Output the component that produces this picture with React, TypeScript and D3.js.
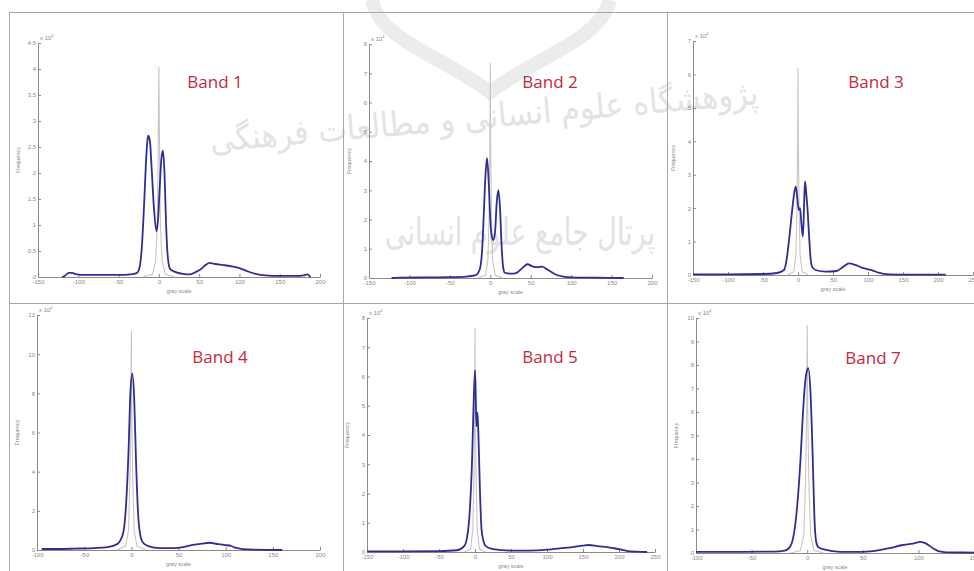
import React, { useEffect, useRef } from "react";
import * as d3 from "d3";

type Pt = [number, number];

// [gray value, frequency (x10^4)]
const band1Blue: Pt[] = [
  [-120, 0], [-116, 0.03], [-112, 0.08], [-108, 0.08], [-102, 0.05], [-90, 0.04], [-70, 0.04],
  [-50, 0.04], [-35, 0.05], [-27, 0.08], [-24, 0.18], [-21, 0.6], [-18, 1.5], [-16, 2.2],
  [-14, 2.65], [-13, 2.72], [-11, 2.6], [-9, 2.1], [-6, 1.3], [-3, 0.88], [-1, 1.1], [1, 1.7],
  [3, 2.25], [5, 2.43], [7, 2.0], [9, 1.0], [11, 0.4], [14, 0.15], [20, 0.1], [30, 0.06],
  [38, 0.05], [45, 0.09], [52, 0.15], [58, 0.23], [63, 0.27], [70, 0.25], [80, 0.23], [92, 0.2],
  [100, 0.17], [110, 0.11], [120, 0.06], [132, 0.03], [150, 0.02], [170, 0.02], [180, 0.03],
  [184, 0.05], [187, 0.02], [188, 0],
];
const band1Gray: Pt[] = [
  [-20, 0], [-8, 0.05], [-4, 0.3], [-2, 1.0], [-1, 2.2], [0, 4.04], [1, 2.2], [2, 1.0], [4, 0.3], [8, 0.05], [20, 0],
];

const band2Blue: Pt[] = [
  [-122, 0], [-110, 0.01], [-80, 0.02], [-50, 0.03], [-30, 0.05], [-18, 0.1], [-13, 0.3],
  [-10, 1.0], [-8, 2.2], [-6, 3.5], [-4, 4.1], [-2, 3.3], [0, 2.0], [2, 1.4], [4, 1.3], [6, 1.6],
  [8, 2.6], [10, 3.0], [12, 2.4], [14, 1.1], [16, 0.35], [18, 0.18], [25, 0.15], [32, 0.17],
  [40, 0.35], [46, 0.47], [52, 0.4], [58, 0.37], [64, 0.39], [70, 0.3], [80, 0.13], [90, 0.05],
  [100, 0.02], [130, 0.01], [165, 0],
];
const band2Gray: Pt[] = [
  [-15, 0], [-6, 0.1], [-3, 0.6], [-1.5, 2.0], [-0.5, 4.5], [0, 7.35], [0.5, 4.5], [1.5, 2.0], [3, 0.6], [6, 0.1], [15, 0],
];

const band3Blue: Pt[] = [
  [-150, 0.02], [-100, 0.02], [-50, 0.03], [-30, 0.06], [-20, 0.15], [-16, 0.5], [-12, 1.2],
  [-8, 2.0], [-5, 2.5], [-3, 2.64], [-1, 2.3], [1, 1.95], [3, 2.0], [5, 1.5], [7, 1.15], [9, 2.3],
  [10, 2.8], [12, 2.4], [14, 1.85], [16, 1.1], [18, 0.5], [20, 0.25], [25, 0.15], [40, 0.1],
  [55, 0.12], [65, 0.25], [73, 0.35], [82, 0.3], [91, 0.22], [100, 0.17], [106, 0.14],
  [115, 0.07], [130, 0.02], [160, 0.01], [211, 0.01],
];
const band3Gray: Pt[] = [
  [-15, 0], [-6, 0.1], [-3, 0.6], [-1.5, 2.0], [-0.5, 4.0], [0, 6.2], [0.5, 4.0], [1.5, 2.0], [3, 0.6], [6, 0.1], [15, 0],
];

const band4Blue: Pt[] = [
  [-95, 0.05], [-80, 0.05], [-60, 0.07], [-40, 0.1], [-25, 0.15], [-15, 0.3], [-9, 0.8],
  [-6, 2.0], [-3, 5.0], [-1, 8.0], [1, 9.0], [3, 7.8], [5, 4.5], [7, 2.0], [9, 0.9], [12, 0.4],
  [18, 0.2], [30, 0.1], [45, 0.1], [55, 0.15], [65, 0.26], [75, 0.33], [83, 0.37], [92, 0.3],
  [100, 0.25], [105, 0.22], [110, 0.12], [118, 0.05], [130, 0.02], [160, 0],
];
const band4Gray: Pt[] = [
  [-15, 0], [-6, 0.2], [-3, 1.0], [-1.5, 3.5], [-0.5, 7.0], [0, 11.2], [0.5, 7.0], [1.5, 3.5], [3, 1.0], [6, 0.2], [15, 0],
];

const band5Blue: Pt[] = [
  [-150, 0.02], [-100, 0.02], [-50, 0.03], [-25, 0.06], [-15, 0.2], [-11, 0.5], [-7, 1.5],
  [-4, 3.2], [-2, 5.0], [0, 6.22], [1, 5.4], [2, 4.3], [3.5, 4.76], [5, 3.8], [7, 2.0], [9, 0.8],
  [12, 0.35], [15, 0.2], [25, 0.1], [50, 0.05], [75, 0.05], [100, 0.08], [120, 0.13], [135, 0.17],
  [150, 0.22], [158, 0.24], [170, 0.2], [185, 0.16], [195, 0.12], [203, 0.08], [212, 0.03],
  [225, 0.01], [239, 0],
];
const band5Gray: Pt[] = [
  [-15, 0], [-6, 0.1], [-3, 0.8], [-1.5, 2.5], [-0.5, 5.0], [0, 7.65], [0.5, 5.0], [1.5, 2.5], [3, 0.8], [6, 0.1], [15, 0],
];

const band7Blue: Pt[] = [
  [-100, 0.05], [-60, 0.05], [-30, 0.06], [-20, 0.1], [-15, 0.3], [-12, 0.8], [-9, 2.0],
  [-6, 4.0], [-4, 5.8], [-2, 7.2], [0, 7.8], [1, 7.87], [3, 6.8], [5, 4.0], [6.5, 1.5], [8, 0.5],
  [10, 0.25], [15, 0.15], [30, 0.05], [50, 0.05], [65, 0.12], [75, 0.22], [85, 0.33], [95, 0.4],
  [102, 0.47], [107, 0.4], [113, 0.2], [118, 0.08], [125, 0.03], [150, 0.02],
];
const band7Gray: Pt[] = [
  [-15, 0], [-6, 0.1], [-3, 0.8], [-1.5, 3.0], [-0.5, 6.0], [0, 9.7], [0.5, 6.0], [1.5, 3.0], [3, 0.8], [6, 0.1], [15, 0],
];

const xTicks150to200 = [-150, -100, -50, 0, 50, 100, 150, 200];
const xTicks150to250 = [-150, -100, -50, 0, 50, 100, 150, 200, 250];
const xTicks100to200 = [-100, -50, 0, 50, 100, 150, 200];
const xTicks100to150 = [-100, -50, 0, 50, 100, 150];
const yTicks45 = [0, 0.5, 1, 1.5, 2, 2.5, 3, 3.5, 4, 4.5];
const yTicks8 = [0, 1, 2, 3, 4, 5, 6, 7, 8];
const yTicks7 = [0, 1, 2, 3, 4, 5, 6, 7];
const yTicks12 = [0, 2, 4, 6, 8, 10, 12];
const yTicks10 = [0, 1, 2, 3, 4, 5, 6, 7, 8, 9, 10];

const titles = ["Band 1", "Band 2", "Band 3", "Band 4", "Band 5", "Band 7"];

const watermark1 = "پژوهشگاه علوم انسانی و مطالعات فرهنگی";
const watermark2 = "پرتال جامع علوم انسانی";

const W = 974;
const H = 571;

const panels = [
  { blue: band1Blue, gray: band1Gray, xt: xTicks150to200, yt: yTicks45, l: 38, r: 320, b: 277, t: 43, tx: 215, ty: 88 },
  { blue: band2Blue, gray: band2Gray, xt: xTicks150to200, yt: yTicks8, l: 369, r: 652, b: 278, t: 44, tx: 550, ty: 88 },
  { blue: band3Blue, gray: band3Gray, xt: xTicks150to250, yt: yTicks7, l: 693, r: 973, b: 275, t: 41, tx: 876, ty: 88 },
  { blue: band4Blue, gray: band4Gray, xt: xTicks100to200, yt: yTicks12, l: 37, r: 320, b: 550, t: 315, tx: 220, ty: 363 },
  { blue: band5Blue, gray: band5Gray, xt: xTicks150to250, yt: yTicks8, l: 367, r: 655, b: 552, t: 318, tx: 550, ty: 363 },
  { blue: band7Blue, gray: band7Gray, xt: xTicks100to150, yt: yTicks10, l: 696, r: 974, b: 553, t: 318, tx: 873, ty: 364 },
];

const App = () => {
  const svgRef = useRef<SVGSVGElement>(null);

  useEffect(() => {
    const svg = d3.select(svgRef.current);
    svg.selectAll("*").remove();

    svg.append("rect").attr("width", W).attr("height", H).attr("fill", "#fff");

    // faint watermark (logo arch + two lines of text)
    svg.append("path")
      .attr("d", "M372,0 C380,40 440,55 490,92 C540,55 600,40 610,0")
      .attr("fill", "none")
      .attr("stroke", "#ececec")
      .attr("stroke-width", 14);
    const wm = svg.append("g").attr("fill", "#e3e3e3").attr("font-family", "DejaVu Sans");
    wm.append("text")
      .attr("transform", "translate(485,128) rotate(-5)")
      .attr("text-anchor", "middle")
      .attr("font-size", 34)
      .attr("textLength", 550)
      .attr("lengthAdjust", "spacingAndGlyphs")
      .text(watermark1);
    wm.append("text")
      .attr("transform", "translate(520,245)")
      .attr("text-anchor", "middle")
      .attr("font-size", 38)
      .attr("textLength", 270)
      .attr("lengthAdjust", "spacingAndGlyphs")
      .text(watermark2);

    // panel frame lines
    const frame = svg.append("g").attr("stroke", "#a8a8a8").attr("stroke-width", 1);
    frame.append("line").attr("x1", 9.5).attr("x2", 9.5).attr("y1", 12).attr("y2", H);
    frame.append("line").attr("x1", 343.5).attr("x2", 343.5).attr("y1", 12).attr("y2", H);
    frame.append("line").attr("x1", 667.5).attr("x2", 667.5).attr("y1", 12).attr("y2", H);
    frame.append("line").attr("x1", 9).attr("x2", W).attr("y1", 12.5).attr("y2", 12.5);
    frame.append("line").attr("x1", 9).attr("x2", W).attr("y1", 303.5).attr("y2", 303.5);

    panels.forEach((p, i) => {
      const x = d3.scaleLinear().domain([p.xt[0], p.xt[p.xt.length - 1]]).range([p.l, p.r]);
      const y = d3.scaleLinear().domain([0, p.yt[p.yt.length - 1]]).range([p.b, p.t]);
      const g = svg.append("g");

      const xAxis = g
        .append("g")
        .attr("transform", `translate(0,${p.b})`)
        .call(d3.axisBottom(x).tickValues(p.xt).tickSize(-3).tickSizeOuter(0).tickPadding(3).tickFormat((d) => String(d)));
      const yAxis = g
        .append("g")
        .attr("transform", `translate(${p.l},0)`)
        .call(d3.axisLeft(y).tickValues(p.yt).tickSize(-3).tickSizeOuter(0).tickPadding(2).tickFormat((d) => String(d)));
      [xAxis, yAxis].forEach((a) => {
        a.select(".domain").attr("stroke", "#8a8a8a");
        a.selectAll(".tick line").attr("stroke", "#8a8a8a");
        a.selectAll("text").attr("fill", "#8a8a8a").attr("font-size", 6).attr("font-family", "Liberation Sans");
      });

      // exponent label
      const ex = g.append("text").attr("x", p.l + 2).attr("y", p.t - 3).attr("font-size", 6)
        .attr("fill", "#8a8a8a").attr("font-family", "Liberation Sans");
      ex.append("tspan").text("x 10");
      ex.append("tspan").attr("font-size", 4).attr("dy", -3).text("4");

      g.append("text")
        .attr("transform", `translate(${p.l - 18},${(p.t + p.b) / 2}) rotate(-90)`)
        .attr("text-anchor", "middle")
        .attr("font-size", 5.5)
        .attr("fill", "#8a8a8a")
        .attr("font-family", "Liberation Sans")
        .text("Frequency");
      g.append("text")
        .attr("x", (p.l + p.r) / 2)
        .attr("y", p.b + 16)
        .attr("text-anchor", "middle")
        .attr("font-size", 5.5)
        .attr("fill", "#8a8a8a")
        .attr("font-family", "Liberation Sans")
        .text("gray scale");

      const line = d3.line<Pt>().x((d) => x(d[0])).y((d) => y(d[1]));

      g.append("path")
        .datum(p.gray)
        .attr("d", line.curve(d3.curveLinear))
        .attr("fill", "none")
        .attr("stroke", "#cdc3c7")
        .attr("stroke-width", 1.1);

      g.append("path")
        .datum(p.blue)
        .attr("d", line.curve(d3.curveMonotoneX))
        .attr("fill", "none")
        .attr("stroke", "#2f2f92")
        .attr("stroke-width", 1.8)
        .attr("stroke-linejoin", "round");

      g.append("text")
        .attr("x", p.tx)
        .attr("y", p.ty)
        .attr("text-anchor", "middle")
        .attr("font-size", 17)
        .attr("font-family", "Open Sans")
        .attr("fill", "#c42a3e")
        .text(titles[i]);
    });
  }, []);

  return (
    <svg
      ref={svgRef}
      width={W}
      height={H}
      style={{ position: "absolute", left: 0, top: 0, display: "block" }}
    />
  );
};

export default App;
